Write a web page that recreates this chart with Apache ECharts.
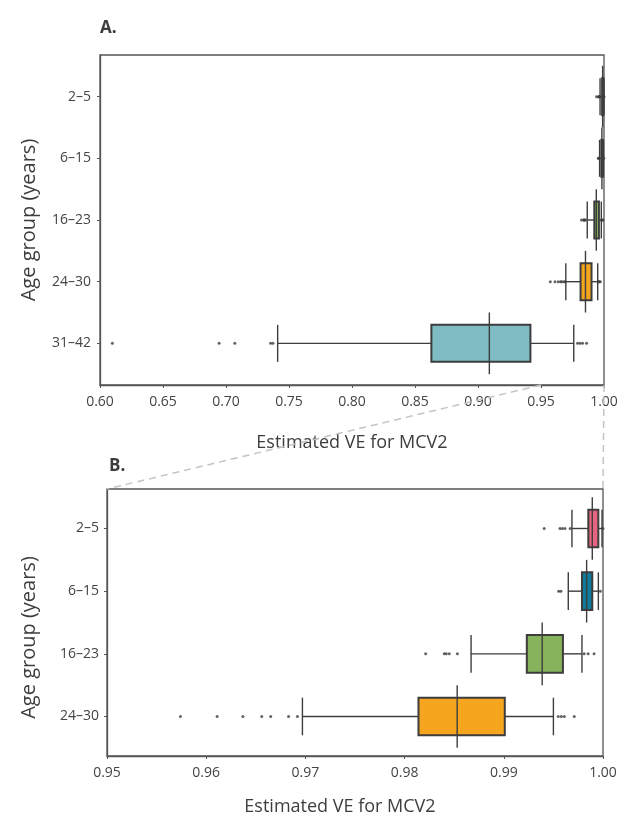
<!DOCTYPE html>
<html><head><meta charset="utf-8">
<script src="https://cdn.jsdelivr.net/npm/echarts@6/dist/echarts.min.js"></script>
<style>html,body{margin:0;padding:0;background:#fff}#main{width:632px;height:834px}</style>
</head><body><div id="main"></div>
<script>
// ---- data ----
const ageGroups   = ['2–5', '6–15', '16–23', '24–30', '31–42'];
const whiskerLow  = [0.99687, 0.99650, 0.98670, 0.96970, 0.7410];
const quartile1   = [0.99852, 0.99788, 0.99232, 0.98140, 0.8630];
const medians     = [0.99892, 0.99835, 0.99387, 0.98530, 0.9090];
const quartile3   = [0.99953, 0.99892, 0.99596, 0.99010, 0.9416];
const whiskerHigh = [0.99990, 0.99953, 0.99788, 0.99500, 0.9760];
const outliers = [
  [0.99407, 0.99566, 0.99590, 0.99616, 0.99669, 1.00000],
  [0.99553, 0.99576, 0.99973],
  [0.98212, 0.98400, 0.98420, 0.98450, 0.98532, 0.99810, 0.99850, 0.99910],
  [0.95740, 0.96110, 0.96370, 0.96560, 0.96650, 0.96830, 0.96920, 0.99549, 0.99580, 0.99610, 0.99710],
  [0.6098, 0.6945, 0.7070, 0.7354, 0.7373, 0.9790, 0.9810, 0.9830, 0.9862]
];
const boxColors = ['#e8637f', '#107b9d', '#86b35b', '#f6a61e', '#7fbbc3'];
const panelAGroups = [0, 1, 2, 3, 4];
const panelBGroups = [0, 1, 2, 3];
const xRangeA = [0.60, 1.00, 0.05];
const xRangeB = [0.95, 1.00, 0.01];
const xAxisTitle = 'Estimated VE for MCV2';
const yAxisTitle = 'Age group (years)';

// ---- build ----
const INK = '#3d3d3d';
const FONT = 'Open Sans';
function boxData(groups) {
  return groups.map(i => [i, whiskerLow[i], quartile1[i], medians[i], quartile3[i], whiskerHigh[i]]);
}
function outlierData(groups) {
  const out = [];
  groups.forEach(i => outliers[i].forEach(v => out.push([v, i])));
  return out;
}
function renderBox(params, api) {
  const i = api.value(0);
  const pLo = api.coord([api.value(1), i]);
  const pA = api.coord([api.value(2), i]);
  const pM = api.coord([api.value(3), i]);
  const pB = api.coord([api.value(4), i]);
  const pHi = api.coord([api.value(5), i]);
  const h = api.size([0, 0.6])[1];
  const hm = api.size([0, 1.0])[1];
  const y = pLo[1];
  const ls = {stroke: INK, lineWidth: 1.4};
  return {type: 'group', children: [
    {type: 'line', shape: {x1: pLo[0], y1: y, x2: pA[0], y2: y}, style: ls},
    {type: 'line', shape: {x1: pB[0], y1: y, x2: pHi[0], y2: y}, style: ls},
    {type: 'line', shape: {x1: pLo[0], y1: y - h / 2, x2: pLo[0], y2: y + h / 2}, style: ls},
    {type: 'line', shape: {x1: pHi[0], y1: y - h / 2, x2: pHi[0], y2: y + h / 2}, style: ls},
    {type: 'rect', shape: {x: pA[0], y: y - h / 2, width: pB[0] - pA[0], height: h},
      style: {fill: boxColors[i], stroke: INK, lineWidth: 2}},
    {type: 'line', shape: {x1: pM[0], y1: y - hm / 2, x2: pM[0], y2: y + hm / 2}, style: ls}
  ]};
}
const yMinA = -0.675, yMaxA = 4.675;
const yMinB = -0.63, yMaxB = 3.63;

function xAxis(gridIndex, r, gap, pad) {
  return {
    type: 'value', gridIndex, min: r[0], max: r[1], interval: r[2],
    name: xAxisTitle, nameLocation: 'middle', nameGap: gap,
    nameTextStyle: {fontFamily: FONT, fontSize: 18, color: INK, padding: pad},
    axisLine: {show: true, onZero: false, lineStyle: {color: '#555', width: 1.3}},
    axisTick: {show: true, length: 3, lineStyle: {color: '#555'}},
    axisLabel: {fontFamily: FONT, fontSize: 14, color: '#444', margin: 10,
      formatter: v => v.toFixed(2)},
    splitLine: {show: false}
  };
}
function yAxis(gridIndex, mn, mx, groups, gap, margin, pad) {
  return {
    type: 'value', gridIndex, min: mn, max: mx, inverse: true,
    name: yAxisTitle, nameLocation: 'middle', nameGap: gap, nameRotate: 90,
    nameTextStyle: {fontFamily: FONT, fontSize: 20, color: INK, padding: pad},
    axisLine: {show: true, onZero: false, lineStyle: {color: '#555', width: 1.3}},
    axisTick: {show: true, length: 3, customValues: groups, lineStyle: {color: '#555'}},
    axisLabel: {fontFamily: FONT, fontSize: 14, color: '#444', margin: margin,
      customValues: groups, formatter: v => ageGroups[Math.round(v)]},
    splitLine: {show: false}
  };
}

const option = {
  animation: false,
  backgroundColor: '#fff',
  title: [
    {text: 'A.', left: 95, top: 15, textStyle: {fontFamily: FONT, fontSize: 17, fontWeight: 'bold', color: INK}},
    {text: 'B.', left: 104, top: 453, textStyle: {fontFamily: FONT, fontSize: 17, fontWeight: 'bold', color: INK}}
  ],
  grid: [
    {left: 100, top: 55, width: 504, height: 330, show: true, borderColor: '#555', borderWidth: 1.3, backgroundColor: 'transparent'},
    {left: 107, top: 489, width: 496, height: 267, show: true, borderColor: '#555', borderWidth: 1.3, backgroundColor: 'transparent'}
  ],
  xAxis: [xAxis(0, xRangeA, 49, [0, 0, 0, 0]), xAxis(1, xRangeB, 42, [0, 30, 0, 0])],
  yAxis: [yAxis(0, yMinA, yMaxA, panelAGroups, 61, 9, [0, 0, 0, 0]), yAxis(1, yMinB, yMaxB, panelBGroups, 68, 8, [0, 30, 0, 0])],
  series: [
    {type: 'custom', xAxisIndex: 0, yAxisIndex: 0, renderItem: renderBox, data: boxData(panelAGroups),
      encode: {x: [1, 2, 3, 4, 5], y: 0}, clip: false, z: 2},
    {type: 'scatter', xAxisIndex: 0, yAxisIndex: 0, data: outlierData(panelAGroups),
      symbolSize: 3, itemStyle: {color: INK}, z: 3},
    {type: 'custom', xAxisIndex: 1, yAxisIndex: 1, renderItem: renderBox, data: boxData(panelBGroups),
      encode: {x: [1, 2, 3, 4, 5], y: 0}, clip: false, z: 2},
    {type: 'scatter', xAxisIndex: 1, yAxisIndex: 1, data: outlierData(panelBGroups),
      symbolSize: 3, itemStyle: {color: INK}, z: 3}
  ]
};

const chart = echarts.init(document.getElementById('main'), null, {renderer: 'canvas'});
chart.setOption(option);

// zoom connector lines (positions from the axes' own scales)
const a1 = chart.convertToPixel({xAxisIndex: 0, yAxisIndex: 0}, [xRangeB[0], yMaxA]);
const b1 = chart.convertToPixel({xAxisIndex: 1, yAxisIndex: 1}, [xRangeB[0], yMinB]);
const a2 = chart.convertToPixel({xAxisIndex: 0, yAxisIndex: 0}, [xRangeB[1], yMaxA]);
const b2 = chart.convertToPixel({xAxisIndex: 1, yAxisIndex: 1}, [xRangeB[1], yMinB]);
const dash = {stroke: '#c4c4c4', lineWidth: 1.5, lineDash: [7, 5]};
chart.setOption({graphic: [
  {type: 'line', z: 100, shape: {x1: a1[0], y1: a1[1], x2: b1[0], y2: b1[1]}, style: dash},
  {type: 'line', z: 100, shape: {x1: a2[0], y1: a2[1], x2: b2[0], y2: b2[1]}, style: dash}
]});
</script>
</body></html>
